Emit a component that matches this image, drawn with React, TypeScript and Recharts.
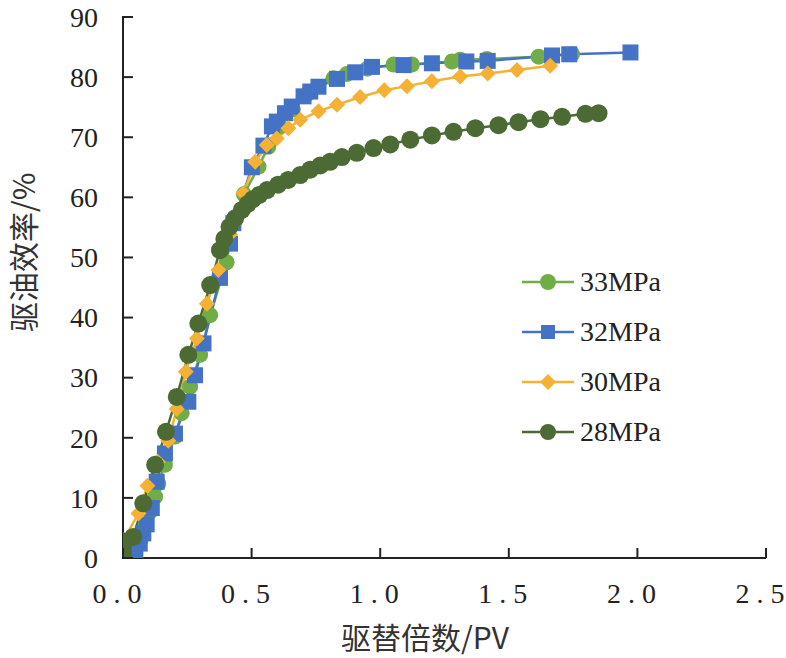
import { ComposedChart, Line, XAxis, YAxis, Label, Legend } from "recharts";

// [PV, 驱油效率 %]
const p33: [number, number][] = [
  [0, 0], [0, 1.5], [0.048, 0], [0.068, 3.0], [0.088, 5.5], [0.105, 7.7], [0.125, 10.2],
  [0.137, 12.4], [0.163, 15.5], [0.202, 20.2], [0.228, 24.1], [0.261, 28.5], [0.3, 33.8],
  [0.339, 40.4], [0.403, 49.2], [0.429, 56.2], [0.47, 60.5], [0.527, 65.1], [0.565, 68.4],
  [0.61, 71.8], [0.66, 74.6], [0.72, 77.3], [0.818, 79.8], [0.87, 80.5], [0.95, 81.4],
  [1.052, 82.1], [1.123, 82.1], [1.279, 82.6], [1.311, 82.9], [1.415, 83.0], [1.616, 83.4],
  [1.746, 83.8],
];
const p32: [number, number][] = [
  [0.048, 1.0], [0.065, 2.4], [0.079, 4.1], [0.092, 5.6], [0.112, 8.3], [0.131, 12.7],
  [0.163, 17.4], [0.202, 20.7], [0.254, 26.0], [0.28, 30.4], [0.313, 35.7], [0.377, 46.6],
  [0.416, 52.3], [0.429, 55.7], [0.501, 65.0], [0.546, 68.6], [0.579, 71.8], [0.598, 72.6],
  [0.63, 74.0], [0.656, 75.1], [0.702, 76.8], [0.728, 77.6], [0.76, 78.4], [0.832, 79.7],
  [0.903, 80.8], [0.968, 81.7], [1.091, 82.0], [1.201, 82.3], [1.335, 82.6], [1.418, 82.7],
  [1.668, 83.6], [1.735, 83.8], [1.973, 84.1],
];
const p30: [number, number][] = [
  [0, 0], [0, 1.5], [0.002, 3.0], [0.06, 7.4], [0.095, 12.0], [0.135, 16.0], [0.176, 19.5],
  [0.209, 24.8], [0.244, 31.0], [0.287, 36.5], [0.326, 42.3], [0.371, 47.9], [0.416, 53.8],
  [0.468, 60.7], [0.514, 65.9], [0.559, 68.7], [0.598, 69.8], [0.643, 71.5], [0.689, 72.9],
  [0.76, 74.3], [0.832, 75.4], [0.922, 76.7], [1.016, 77.8], [1.104, 78.5], [1.201, 79.3],
  [1.311, 80.1], [1.418, 80.6], [1.532, 81.2], [1.661, 81.9],
];
const p28: [number, number][] = [
  [0, 0], [0, 1], [0, 2], [0, 2.8], [0.04, 3.5], [0.079, 9.1], [0.125, 15.5], [0.167, 21.0],
  [0.209, 26.8], [0.254, 33.8], [0.293, 39.0], [0.339, 45.4], [0.377, 51.2], [0.394, 53.1],
  [0.414, 55.1], [0.436, 56.5], [0.462, 57.9], [0.485, 58.9], [0.505, 59.7], [0.53, 60.4],
  [0.56, 61.2], [0.603, 62.1], [0.642, 62.9], [0.689, 63.7], [0.728, 64.6], [0.767, 65.3],
  [0.805, 65.9], [0.851, 66.7], [0.909, 67.4], [0.974, 68.2], [1.039, 68.8], [1.117, 69.6],
  [1.201, 70.3], [1.285, 70.9], [1.37, 71.5], [1.46, 72.0], [1.538, 72.5], [1.623, 73.0],
  [1.707, 73.4], [1.798, 73.9], [1.849, 74.0],
];

const xTicks = [0, 0.5, 1, 1.5, 2, 2.5];
const yTicks = [0, 10, 20, 30, 40, 50, 60, 70, 80, 90];

type Shape = "circle" | "square" | "diamond";

const series: { name: string; points: [number, number][]; color: string; shape: Shape; r: number }[] = [
  { name: "33MPa", points: p33, color: "#70AD47", shape: "circle", r: 8 },
  { name: "32MPa", points: p32, color: "#4472C4", shape: "square", r: 8 },
  { name: "30MPa", points: p30, color: "#F5B133", shape: "diamond", r: 8 },
  { name: "28MPa", points: p28, color: "#4C6B34", shape: "circle", r: 9 },
];

const NUM_FONT = "'Liberation Serif', 'Times New Roman', serif";
const CJK_FONT = "'Noto Sans CJK SC', sans-serif";
const AXIS = "#222";
const X_GAP = 25; // axis line to top of x labels
const Y_GAP = 25; // axis line to right edge of y labels
const TICK_LEN = 10; // ticks point into the plot

function Marker({ shape, cx, cy, r, color }: { shape: Shape; cx: number; cy: number; r: number; color: string }) {
  if (shape === "square") return <rect x={cx - r} y={cy - r} width={r * 2} height={r * 2} fill={color} />;
  if (shape === "diamond")
    return <polygon points={`${cx},${cy - r} ${cx + r},${cy} ${cx},${cy + r} ${cx - r},${cy}`} fill={color} />;
  return <circle cx={cx} cy={cy} r={r} fill={color} />;
}

const dotFor = (shape: Shape, color: string, r: number) => (props: any) => {
  const { cx, cy, index } = props;
  if (cx == null || cy == null) return <g key={`e${index}`} />;
  return (
    <g key={`d${index}`}>
      <Marker shape={shape} cx={cx} cy={cy} r={r} color={color} />
    </g>
  );
};

function XTick({ x, y, payload }: any) {
  const axisY = y - X_GAP;
  const [whole, frac] = Number(payload.value).toFixed(1).split(".");
  return (
    <g>
      <line x1={x} x2={x} y1={axisY} y2={axisY - TICK_LEN} stroke={AXIS} strokeWidth={2} />
      <text x={x - 6} y={y} dy="0.71em" textAnchor="middle" fontFamily={NUM_FONT} fontSize={28} fill="#222">
        <tspan letterSpacing={7}>{whole}.</tspan>
        <tspan>{frac}</tspan>
      </text>
    </g>
  );
}

function YTick({ x, y, payload }: any) {
  const axisX = x + Y_GAP;
  return (
    <g>
      <line x1={axisX - 1} x2={axisX + TICK_LEN} y1={y} y2={y} stroke={AXIS} strokeWidth={2} />
      <text x={x} y={y} dy="0.35em" textAnchor="end" fontFamily={NUM_FONT} fontSize={28} fill="#222">
        {payload.value}
      </text>
    </g>
  );
}

function LegendBox() {
  return (
    <div style={{ display: "flex", flexDirection: "column" }}>
      {series.map((s) => (
        <div key={s.name} style={{ display: "flex", alignItems: "center", height: 50 }}>
          <svg width={56} height={24}>
            <line x1={0} y1={12} x2={52} y2={12} stroke={s.color} strokeWidth={2.5} />
            <Marker shape={s.shape} cx={26} cy={12} r={s.shape === "square" ? 7 : 8} color={s.color} />
          </svg>
          <span style={{ fontFamily: NUM_FONT, fontSize: 28, color: "#222", marginLeft: 2 }}>{s.name}</span>
        </div>
      ))}
    </div>
  );
}

export default function App() {
  return (
    <div style={{ position: "absolute", left: 0, top: 0, width: 786, height: 658, background: "#fff" }}>
      <ComposedChart width={786} height={658} margin={{ top: 17, right: 20, bottom: 0, left: 23 }}>
        <XAxis
          type="number"
          dataKey="x"
          domain={[0, 2.5]}
          ticks={xTicks}
          allowDataOverflow
          height={100}
          stroke={AXIS}
          strokeWidth={2}
          tickLine={false}
          tickSize={0}
          tickMargin={X_GAP}
          tick={<XTick />}
        >
          <Label
            content={() => (
              <text x={425} y={638} dy="0.35em" textAnchor="middle" fontFamily={CJK_FONT} fontSize={30} fill="#333">
                驱替倍数/PV
              </text>
            )}
          />
        </XAxis>
        <YAxis
          type="number"
          domain={[0, 90]}
          ticks={yTicks}
          allowDataOverflow
          width={100}
          stroke={AXIS}
          strokeWidth={2}
          tickLine={false}
          tickSize={0}
          tickMargin={Y_GAP}
          tick={<YTick />}
        />
        <Legend
          layout="vertical"
          verticalAlign="middle"
          align="center"
          wrapperStyle={{ left: 522, top: 257, width: 200 }}
          content={() => <LegendBox />}
        />
        {series.map((s) => (
          <Line
            key={s.name}
            name={s.name}
            data={s.points.map(([x, y]) => ({ x, y }))}
            dataKey="y"
            type="linear"
            stroke={s.color}
            strokeWidth={2.5}
            dot={dotFor(s.shape, s.color, s.r)}
            activeDot={false}
            isAnimationActive={false}
          />
        ))}
      </ComposedChart>
      {/* y-axis title, rotated to read bottom-to-top */}
      <div
        style={{
          position: "absolute",
          left: 4,
          top: 152,
          width: 36,
          height: 200,
          lineHeight: "36px",
          writingMode: "vertical-rl",
          textOrientation: "sideways",
          transform: "rotate(180deg)",
          textAlign: "center",
          fontFamily: CJK_FONT,
          fontSize: 30,
          color: "#333",
          whiteSpace: "nowrap",
        }}
      >
        驱油效率/%
      </div>
    </div>
  );
}
